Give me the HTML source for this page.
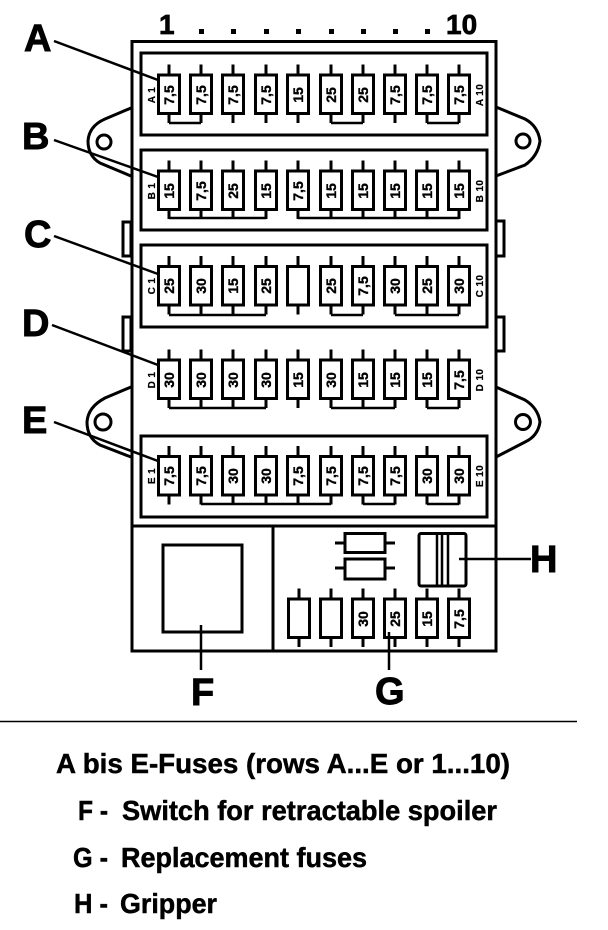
<!DOCTYPE html>
<html><head><meta charset="utf-8"><style>
html,body{margin:0;padding:0;background:#fff}
svg{display:block}
text{font-family:"Liberation Sans",sans-serif;font-weight:bold;fill:#000;stroke:#000}
.v{font-size:14px;text-anchor:middle;stroke-width:.35px}
.s{font-size:10px;text-anchor:middle;stroke-width:.2px;letter-spacing:.4px}
.b{font-size:38px;stroke-width:.9px}
.n{font-size:28px;stroke-width:.7px}
.l{font-size:28px;stroke-width:.5px}
</style></head><body>
<svg width="608" height="930" viewBox="0 0 608 930" xmlns="http://www.w3.org/2000/svg">
<defs>
<g id="f"><path d="M0-30V-19M0 19V28.500" stroke="#000" stroke-width="3" fill="none"/><rect x="-10.500" y="-19.500" width="21" height="38.500" fill="#fff" stroke="#000" stroke-width="3"/></g>
</defs>
<g fill="#fff" stroke="#000" stroke-width="3">
<path d="M131 108L105 119Q89 126 88 141Q88 156 100 163L131 176"/>
<path d="M496 107L525 119Q538 126 540 141Q538 156 525 165L496 176"/>
<path d="M131 387L105 398Q88 407 87 422Q87 438 100 445L131 457"/>
<path d="M496 387L525 400Q538 408 540 422Q538 436 525 442L496 457"/>
<circle cx="104" cy="142" r="7"/><circle cx="523" cy="141" r="7"/>
<circle cx="103" cy="422" r="8"/><circle cx="523" cy="422" r="7.500"/>
<rect x="123" y="222" width="8" height="34"/><rect x="123" y="317" width="8" height="34"/>
<rect x="496" y="221" width="8" height="35"/><rect x="496" y="317" width="8" height="34"/>
</g>
<rect x="132" y="41.500" width="364" height="609.500" fill="#fff" stroke="#000" stroke-width="3"/>
<g fill="none" stroke="#000" stroke-width="3">
<rect x="141" y="53" width="346" height="82"/>
<rect x="141" y="150" width="346" height="80"/>
<rect x="141" y="245" width="346" height="82"/>
<rect x="141" y="436" width="346" height="81"/>
<path d="M132 526H496M273 526V651"/>
<rect x="163" y="545" width="79" height="87"/>
</g>
<g fill="none" stroke="#000" stroke-width="2.500">
<path d="M169 123H201M331 123H363M427 123H459"/>
<path d="M169 218H266M298 218H459"/>
<path d="M169 315H266M331 315H363M395 315H459"/>
<path d="M169 408H266M331 408H395M427 408H459"/>
<path d="M201 504H331M363 504H395M427 504H459"/>
</g>
<g>
<use href="#f" x="169" y="94.500"/><use href="#f" x="201" y="94.500"/><use href="#f" x="233" y="94.500"/><use href="#f" x="266" y="94.500"/><use href="#f" x="298" y="94.500"/><use href="#f" x="331" y="94.500"/><use href="#f" x="363" y="94.500"/><use href="#f" x="395" y="94.500"/><use href="#f" x="427" y="94.500"/><use href="#f" x="459" y="94.500"/>
<use href="#f" x="169" y="190.500"/><use href="#f" x="201" y="190.500"/><use href="#f" x="233" y="190.500"/><use href="#f" x="266" y="190.500"/><use href="#f" x="298" y="190.500"/><use href="#f" x="331" y="190.500"/><use href="#f" x="363" y="190.500"/><use href="#f" x="395" y="190.500"/><use href="#f" x="427" y="190.500"/><use href="#f" x="459" y="190.500"/>
<use href="#f" x="169" y="286"/><use href="#f" x="201" y="286"/><use href="#f" x="233" y="286"/><use href="#f" x="266" y="286"/><use href="#f" x="298" y="286"/><use href="#f" x="331" y="286"/><use href="#f" x="363" y="286"/><use href="#f" x="395" y="286"/><use href="#f" x="427" y="286"/><use href="#f" x="459" y="286"/>
<use href="#f" x="169" y="379.500"/><use href="#f" x="201" y="379.500"/><use href="#f" x="233" y="379.500"/><use href="#f" x="266" y="379.500"/><use href="#f" x="298" y="379.500"/><use href="#f" x="331" y="379.500"/><use href="#f" x="363" y="379.500"/><use href="#f" x="395" y="379.500"/><use href="#f" x="427" y="379.500"/><use href="#f" x="459" y="379.500"/>
<use href="#f" x="169" y="476"/><use href="#f" x="201" y="476"/><use href="#f" x="233" y="476"/><use href="#f" x="266" y="476"/><use href="#f" x="298" y="476"/><use href="#f" x="331" y="476"/><use href="#f" x="363" y="476"/><use href="#f" x="395" y="476"/><use href="#f" x="427" y="476"/><use href="#f" x="459" y="476"/>
<use href="#f" x="299" y="618.500"/><use href="#f" x="331" y="618.500"/><use href="#f" x="363" y="618.500"/><use href="#f" x="395" y="618.500"/><use href="#f" x="427" y="618.500"/><use href="#f" x="459" y="618.500"/>
</g>
<g>
<text class="v" transform="translate(174 95) rotate(-90)">7,5</text><text class="v" transform="translate(206 95) rotate(-90)">7,5</text><text class="v" transform="translate(238 95) rotate(-90)">7,5</text><text class="v" transform="translate(271 95) rotate(-90)">7,5</text><text class="v" transform="translate(303 95) rotate(-90)">15</text><text class="v" transform="translate(336 95) rotate(-90)">25</text><text class="v" transform="translate(368 95) rotate(-90)">25</text><text class="v" transform="translate(400 95) rotate(-90)">7,5</text><text class="v" transform="translate(432 95) rotate(-90)">7,5</text><text class="v" transform="translate(464 95) rotate(-90)">7,5</text>
<text class="v" transform="translate(174 191) rotate(-90)">15</text><text class="v" transform="translate(206 191) rotate(-90)">7,5</text><text class="v" transform="translate(238 191) rotate(-90)">25</text><text class="v" transform="translate(271 191) rotate(-90)">15</text><text class="v" transform="translate(303 191) rotate(-90)">7,5</text><text class="v" transform="translate(336 191) rotate(-90)">15</text><text class="v" transform="translate(368 191) rotate(-90)">15</text><text class="v" transform="translate(400 191) rotate(-90)">15</text><text class="v" transform="translate(432 191) rotate(-90)">15</text><text class="v" transform="translate(464 191) rotate(-90)">15</text>
<text class="v" transform="translate(174 286) rotate(-90)">25</text><text class="v" transform="translate(206 286) rotate(-90)">30</text><text class="v" transform="translate(238 286) rotate(-90)">15</text><text class="v" transform="translate(271 286) rotate(-90)">25</text><text class="v" transform="translate(336 286) rotate(-90)">25</text><text class="v" transform="translate(368 286) rotate(-90)">7,5</text><text class="v" transform="translate(400 286) rotate(-90)">30</text><text class="v" transform="translate(432 286) rotate(-90)">25</text><text class="v" transform="translate(464 286) rotate(-90)">30</text>
<text class="v" transform="translate(174 380) rotate(-90)">30</text><text class="v" transform="translate(206 380) rotate(-90)">30</text><text class="v" transform="translate(238 380) rotate(-90)">30</text><text class="v" transform="translate(271 380) rotate(-90)">30</text><text class="v" transform="translate(303 380) rotate(-90)">15</text><text class="v" transform="translate(336 380) rotate(-90)">30</text><text class="v" transform="translate(368 380) rotate(-90)">15</text><text class="v" transform="translate(400 380) rotate(-90)">15</text><text class="v" transform="translate(432 380) rotate(-90)">15</text><text class="v" transform="translate(464 380) rotate(-90)">7,5</text>
<text class="v" transform="translate(174 476) rotate(-90)">7,5</text><text class="v" transform="translate(206 476) rotate(-90)">7,5</text><text class="v" transform="translate(238 476) rotate(-90)">30</text><text class="v" transform="translate(271 476) rotate(-90)">30</text><text class="v" transform="translate(303 476) rotate(-90)">7,5</text><text class="v" transform="translate(336 476) rotate(-90)">7,5</text><text class="v" transform="translate(368 476) rotate(-90)">7,5</text><text class="v" transform="translate(400 476) rotate(-90)">7,5</text><text class="v" transform="translate(432 476) rotate(-90)">30</text><text class="v" transform="translate(464 476) rotate(-90)">30</text>
<text class="v" transform="translate(368 619) rotate(-90)">30</text><text class="v" transform="translate(400 619) rotate(-90)">25</text><text class="v" transform="translate(432 619) rotate(-90)">15</text><text class="v" transform="translate(464 619) rotate(-90)">7,5</text>
</g>
<text class="s" transform="translate(155 95) rotate(-90)">A 1</text>
<text class="s" transform="translate(483 95) rotate(-90)">A 10</text>
<text class="s" transform="translate(155 191) rotate(-90)">B 1</text>
<text class="s" transform="translate(483 191) rotate(-90)">B 10</text>
<text class="s" transform="translate(155 286) rotate(-90)">C 1</text>
<text class="s" transform="translate(483 286) rotate(-90)">C 10</text>
<text class="s" transform="translate(155 380) rotate(-90)">D 1</text>
<text class="s" transform="translate(483 380) rotate(-90)">D 10</text>
<text class="s" transform="translate(155 476) rotate(-90)">E 1</text>
<text class="s" transform="translate(483 476) rotate(-90)">E 10</text>
<g fill="#fff" stroke="#000" stroke-width="3">
<path d="M335 543H395M335 568H395" fill="none"/>
<rect x="345" y="533.500" width="40" height="19"/>
<rect x="345" y="559" width="40" height="20"/>
<rect x="419" y="533.500" width="47" height="52.500" rx="2"/>
<path d="M437 533V586M442 533V586M448 533V586" fill="none" stroke-width="2.500"/>
</g>
<g fill="none" stroke="#000" stroke-width="2.500">
<path d="M54 41L158 80"/>
<path d="M54 140L158 177"/>
<path d="M54 236L158 274"/>
<path d="M52 325L158 365"/>
<path d="M54 422L158 461"/>
<path d="M201 625V670"/>
<path d="M389 632V670"/>
<path d="M459 559H531"/>
</g>
<path d="M0 721.500H577" stroke="#000" stroke-width="1.500"/>
<text class="b" x="24" y="51">A</text>
<text class="b" x="22" y="149">B</text>
<text class="b" x="24" y="247">C</text>
<text class="b" x="22" y="336">D</text>
<text class="b" x="22" y="433">E</text>
<text class="b" x="191" y="705">F</text>
<text class="b" x="375" y="704">G</text>
<text class="b" x="530" y="572">H</text>
<text class="n" x="159" y="34">1</text>
<text class="n" x="446" y="34">10</text>
<g>
<rect x="199" y="29" width="5" height="5"/><rect x="231" y="29" width="5" height="5"/><rect x="264" y="29" width="5" height="5"/><rect x="296" y="29" width="5" height="5"/><rect x="329" y="29" width="5" height="5"/><rect x="361" y="29" width="5" height="5"/><rect x="393" y="29" width="5" height="5"/><rect x="425" y="29" width="5" height="5"/>
</g>
<text class="l" x="56" y="773" textLength="454" lengthAdjust="spacingAndGlyphs">A bis E-Fuses (rows A...E or 1...10)</text>
<text class="l" x="78" y="820" textLength="30" lengthAdjust="spacingAndGlyphs">F -</text>
<text class="l" x="122" y="820" textLength="375" lengthAdjust="spacingAndGlyphs">Switch for retractable spoiler</text>
<text class="l" x="73" y="867" textLength="35" lengthAdjust="spacingAndGlyphs">G -</text>
<text class="l" x="121" y="867" textLength="246" lengthAdjust="spacingAndGlyphs">Replacement fuses</text>
<text class="l" x="74" y="913" textLength="34" lengthAdjust="spacingAndGlyphs">H -</text>
<text class="l" x="120" y="913" textLength="97" lengthAdjust="spacingAndGlyphs">Gripper</text>
</svg>
</body></html>
